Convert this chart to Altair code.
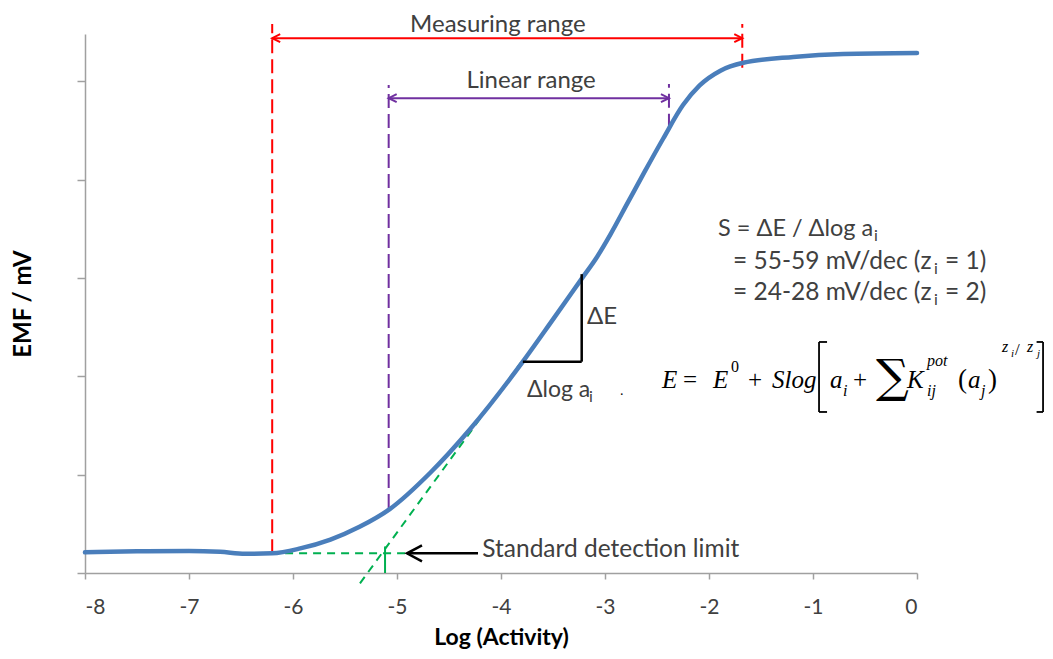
import altair as alt
import pandas as pd

# ---------------- data: electrode response curve ----------------
log_activity = [-8.00, -7.50, -7.00, -6.70, -6.46, -6.20, -5.93, -5.64, -5.36, -5.07,
                -4.68, -4.30, -3.79, -3.50, -3.22, -3.08, -2.95, -2.78, -2.62, -2.44,
                -2.25, -2.09, -1.89, -1.67, -1.19, -0.71, 0.00]
emf = [0.21, 0.22, 0.225, 0.215, 0.195, 0.20, 0.25, 0.34, 0.47, 0.65,
       1.02, 1.46, 2.15, 2.58, 3.00, 3.21, 3.44, 3.77, 4.08, 4.42,
       4.76, 4.96, 5.11, 5.19, 5.25, 5.28, 5.29]

x_ticks = [-8, -7, -6, -5, -4, -3, -2, -1, 0]
y_ticks = [0, 1, 2, 3, 4, 5]

# characteristic points (log activity)
measuring_range = [-6.20, -1.68]
linear_range = [-5.08, -2.385]
detection_limit = -5.115
baseline_emf = 0.20

FONT = "Lato"
SERIF = "Liberation Serif"
TXT = "#404040"

xs = alt.Scale(domain=[-8, 0], nice=False, zero=False)
ys = alt.Scale(domain=[0, 5.483], nice=False, zero=False)

AX = alt.Axis(values=x_ticks, title="Log (Activity)", grid=False, tickSize=6,
              labelExpr="datum.value + ''",
              labelFontSize=21, labelFont=FONT, labelColor=TXT,
              labelPadding=17, titleFont=FONT, titleFontSize=23,
              titleFontWeight="bold", titleColor="#000000", titlePadding=9,
              domainColor="#A0A0A0", tickColor="#A0A0A0", domainWidth=1.5, tickWidth=1.5)
AY = alt.Axis(values=y_ticks, labels=False, title="EMF / mV", grid=False,
              tickSize=8, titleFont=FONT, titleFontSize=24, titleFontWeight="bold",
              titleColor="#000000", titlePadding=41, domainColor="#A0A0A0",
              tickColor="#A0A0A0", domainWidth=1.5, tickWidth=1.5)


def pos():
    return dict(x=alt.X("x:Q", scale=xs, axis=AX), y=alt.Y("y:Q", scale=ys, axis=AY))


def rules(rows, color, width=2, dash=None):
    df = pd.DataFrame(rows, columns=["x", "y", "x2", "y2"])
    kw = dict(color=color, strokeWidth=width, strokeCap="butt")
    if dash:
        kw["strokeDash"] = dash
    return alt.Chart(df).mark_rule(**kw).encode(x2="x2:Q", y2="y2:Q", **pos())


def heads(rows, color, path, size, width=2):
    df = pd.DataFrame(rows, columns=["x", "y"])
    return alt.Chart(df).mark_point(shape=path, size=size, filled=False, stroke=color,
                                    strokeWidth=width, opacity=1,
                                    strokeJoin="miter").encode(**pos())


def texts(rows, font, color=TXT, style="normal", weight="normal",
          baseline="middle", align="left"):
    df = pd.DataFrame(rows, columns=["t", "x", "y", "s"])
    return alt.Chart(df).mark_text(font=font, fontStyle=style, fontWeight=weight,
                                   baseline=baseline, align=align, color=color).encode(
        text="t:N", size=alt.Size("s:Q", scale=None, legend=None), **pos())


LEFT = "M2,-1L0,0L2,1"
RIGHT = "M-2,-1L0,0L-2,1"

lo, hi = measuring_range
llo, lhi = linear_range

red_dashed = rules([(lo, baseline_emf, lo, 5.585), (hi, 5.14, hi, 5.585)], "#FF0000", 2, [14, 6])
red_line = rules([(lo, 5.44, hi, 5.44)], "#FF0000", 2)
red_heads = heads([(lo, 5.44)], "#FF0000", LEFT, 64) + heads([(hi, 5.44)], "#FF0000", RIGHT, 64)

pur_dashed = rules([(llo, 0.66, llo, 4.965), (lhi, 4.53, lhi, 4.975)], "#7030A0", 2, [14, 6])
pur_line = rules([(llo, 4.83, lhi, 4.83)], "#7030A0", 2)
pur_heads = heads([(llo, 4.83)], "#7030A0", LEFT, 64) + heads([(lhi, 4.83)], "#7030A0", RIGHT, 64)

green_dashed = rules([(-6.48, baseline_emf, -4.904, baseline_emf),
                      (-5.356, -0.105, -3.808, 2.14)], "#00B050", 2, [8, 6])
green_solid = rules([(detection_limit, 0, detection_limit, 0.27)], "#00B050", 2)

black_lines = rules([(-4.904, baseline_emf, -4.221, baseline_emf),
                     (-3.79, 2.15, -3.224, 2.15),
                     (-3.224, 2.15, -3.224, 3.04)], "#000000", 2.5)
black_head = heads([(-4.904, baseline_emf)], "#000000", "M2,-1.07L0,0L2,1.07", 225, 2.5)

curve = alt.Chart(pd.DataFrame({"x": log_activity, "y": emf})).mark_line(
    interpolate="monotone", color="#4A7EBB", strokeWidth=4.5, strokeCap="round").encode(**pos())

labels = texts([("Measuring range", -4.03, 5.57, 24),
                ("Linear range", -3.71, 5.00, 24)], FONT, align="center")
side_labels = texts([("Standard detection limit", -4.18, 0.23, 24.5),
                     ("ΔE", -3.173, 2.60, 24),
                     ("Δlog a", -3.75, 1.862, 23),
                     ("S = ΔE / Δlog a", -1.913, 3.50, 23.5),
                     ("= 55-59 mV/dec (z", -1.769, 3.164, 24.5),
                     ("= 1)", 0.269, 3.164, 24.5),
                     ("= 24-28 mV/dec (z", -1.769, 2.848, 24.5),
                     ("= 2)", 0.269, 2.848, 24.5)], FONT)
subs = texts([("i", -3.154, 1.79, 16), ("i", -0.413, 3.428, 16),
              ("i", 0.163, 3.093, 16), ("i", 0.163, 2.777, 16)], FONT)

eq_italic = texts([("E", -2.452, 1.882, 25), ("E", -1.962, 1.882, 25),
                   ("Slog", -1.394, 1.882, 25), ("a", -0.837, 1.882, 25),
                   ("i", -0.712, 1.801, 16), ("K", -0.096, 1.882, 25),
                   ("pot", 0.096, 2.106, 16), ("ij", 0.096, 1.801, 16),
                   ("a", 0.490, 1.882, 25), ("j", 0.615, 1.801, 16),
                   ("z", 0.817, 2.248, 16), ("i", 0.904, 2.197, 11),
                   ("z", 1.058, 2.248, 16), ("j", 1.154, 2.197, 11)],
                  SERIF, color="#000000", style="italic", baseline="alphabetic")
eq_plain = texts([("=", -2.250, 1.882, 25), ("0", -1.788, 2.045, 16),
                  ("+", -1.625, 1.882, 25), ("+", -0.615, 1.882, 25),
                  ("(", 0.394, 1.882, 27), (")", 0.683, 1.882, 27),
                  ("/", 0.942, 2.218, 17), (".", -2.856, 1.811, 14)],
                 SERIF, color="#000000", baseline="alphabetic")
eq_sum = texts([("∑", -0.395, 1.984, 46)], "DejaVu Serif", color="#000000")
brackets = rules([(-0.942, 2.35, -0.942, 1.638), (-0.942, 2.35, -0.865, 2.35),
                  (-0.942, 1.638, -0.865, 1.638),
                  (1.212, 2.35, 1.212, 1.638), (1.150, 2.35, 1.212, 2.35),
                  (1.150, 1.638, 1.212, 1.638)], "#000000", 1.8)

chart = alt.layer(
    red_dashed, red_line, red_heads,
    pur_dashed, pur_line, pur_heads,
    green_dashed, green_solid,
    curve,
    black_lines, black_head,
    labels, side_labels, subs, eq_italic, eq_plain, eq_sum, brackets,
).properties(
    width=832, height=539,
    padding={"left": 77, "top": 26, "right": 128, "bottom": 78},
    autosize=alt.AutoSizeParams(type="none"),
).configure_view(stroke=None)

chart.save("out.html", embed_options={"renderer": "svg", "actions": False})
